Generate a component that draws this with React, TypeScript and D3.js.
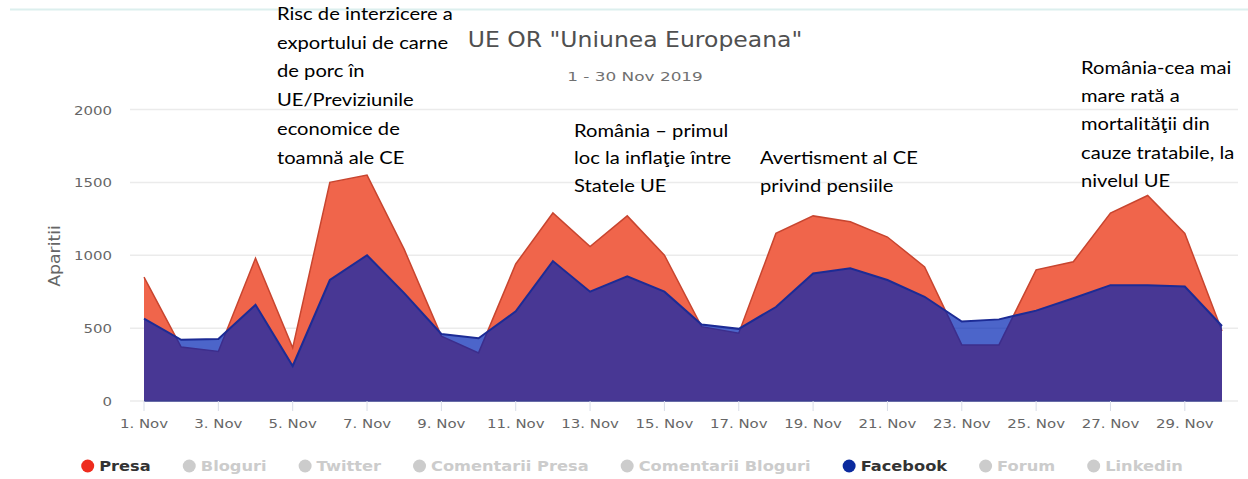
import React from 'react';
import * as d3 from 'd3';

// ---- data ----
const days = [1, 2, 3, 4, 5, 6, 7, 8, 9, 10, 11, 12, 13, 14, 15, 16, 17, 18, 19, 20, 21, 22, 23, 24, 25, 26, 27, 28, 29, 30];
const presa = [850, 370, 340, 980, 365, 1500, 1550, 1040, 445, 330, 940, 1290, 1060, 1270, 1000, 510, 465, 1150, 1270, 1230, 1125, 920, 385, 385, 900, 955, 1290, 1410, 1150, 480];
const facebook = [565, 420, 425, 660, 240, 830, 1000, 740, 460, 430, 615, 960, 750, 855, 750, 525, 495, 645, 875, 910, 830, 715, 545, 560, 620, 705, 795, 795, 785, 515];
const yTicks = [0, 500, 1000, 1500, 2000];
const xTickDays = [1, 3, 5, 7, 9, 11, 13, 15, 17, 19, 21, 23, 25, 27, 29];
const legendNames = ['Presa', 'Bloguri', 'Twitter', 'Comentarii Presa', 'Comentarii Bloguri', 'Facebook', 'Forum', 'Linkedin'];
const legendColors = ['#ee2c1e', '#cccccc', '#cccccc', '#cccccc', '#cccccc', '#0b2a9e', '#cccccc', '#cccccc'];
const legendActive = [true, false, false, false, false, true, false, false];
const titleText = 'UE OR "Uniunea Europeana"';
const subtitleText = '1 - 30 Nov 2019';
const yAxisTitle = 'Aparitii';
const note1 = ['Risc de interzicere a', 'exportului de carne', 'de porc în', 'UE/Previziunile', 'economice de', 'toamnă ale CE'];
const note2 = ['România – primul', 'loc la inflaţie între', 'Statele UE'];
const note3 = ['Avertisment al CE', 'privind pensiile'];
const note4 = ['România-cea mai', 'mare rată a', 'mortalităţii din', 'cauze tratabile, la', 'nivelul UE'];

// ---- layout ----
const W = 1248;
const H = 479;
const AX_FONT = '"DejaVu Sans", Verdana, sans-serif';
const NOTE_FONT = 'Lato, "Open Sans", sans-serif';
const SX = 1.15;
const NOTE_SX = 1.12;

const x = d3.scaleLinear().domain([1, 30]).range([144, 1222]);
const y = d3.scaleLinear().domain([0, 2000]).range([401, 109.5]);

function areaPath(vals: number[]) {
  return d3.area<number>().x((_, i) => x(days[i])).y0(y(0)).y1((d) => y(d))(vals) || '';
}
function linePath(vals: number[]) {
  return d3.line<number>().x((_, i) => x(days[i])).y((d) => y(d))(vals) || '';
}

function SText(props: any) {
  const { x: tx, y: ty, sx = 1, anchor = 'start', children, ...rest } = props;
  return (
    <text transform={`translate(${tx},${ty}) scale(${sx},1)`} textAnchor={anchor} {...rest}>
      {children}
    </text>
  );
}

function measure(t: string, font: string) {
  const c = document.createElement('canvas').getContext('2d');
  if (!c) return t.length * 8;
  c.font = font;
  return c.measureText(t).width;
}

function Note({ lines, x0, y0, step }: { lines: string[]; x0: number; y0: number; step: number }) {
  return (
    <g>
      {lines.map((l, i) => (
        <SText key={i} x={x0} y={y0 + i * step} sx={NOTE_SX} fontFamily={NOTE_FONT} fontSize={18} fill="#000">
          {l}
        </SText>
      ))}
    </g>
  );
}

export default function App() {
  // legend layout
  const LEG_SX = 1.16;
  const legFont = `bold 14px "DejaVu Sans"`;
  let cursor = 0;
  const items = legendNames.map((n, i) => {
    const w = measure(n, legFont) * LEG_SX;
    const it = { name: n, cx: cursor + 6.5, tx: cursor + 18, color: legendColors[i], active: legendActive[i] };
    cursor = cursor + 18 + w + 32;
    return it;
  });
  const total = cursor - 32;
  const legOff = 632 - total / 2;

  return (
    <svg width={W} height={H} style={{ position: 'absolute', left: 0, top: 0, background: '#fff' }}>
      <rect x={0} y={0} width={W} height={H} fill="#fff" />
      <line x1={10} x2={W} y1={9.5} y2={9.5} stroke="#dcefee" strokeWidth={2} />

      {/* grid */}
      {yTicks.map((t) => (
        <line key={t} x1={130} x2={1238} y1={y(t)} y2={y(t)} stroke="#ebebeb" strokeWidth={1.5} />
      ))}

      {/* areas */}
      <path d={areaPath(presa)} fill="#f0654b" />
      <path d={linePath(presa)} fill="none" stroke="#c8452f" strokeWidth={1.5} />
      <path d={areaPath(facebook)} fill="rgb(0,36,180)" fillOpacity={0.7} />
      <path d={linePath(facebook)} fill="none" stroke="#1c2b95" strokeWidth={2} />
      <line x1={x(1)} x2={x(30)} y1={y(0)} y2={y(0)} stroke="#3b3f8f" strokeWidth={1.5} />

      {/* x ticks */}
      {xTickDays.map((d) => (
        <g key={d}>
          <line x1={x(d)} x2={x(d)} y1={y(0)} y2={y(0) + 10} stroke="#d8dde8" strokeWidth={1} />
          <SText x={x(d)} y={428} sx={SX} anchor="middle" fontFamily={AX_FONT} fontSize={13} fill="#666">
            {`${d}. Nov`}
          </SText>
        </g>
      ))}

      {/* y labels */}
      {yTicks.map((t) => (
        <SText key={t} x={112} y={y(t) + 5} sx={SX} anchor="end" fontFamily={AX_FONT} fontSize={13} fill="#666">
          {`${t}`}
        </SText>
      ))}
      <text
        transform={`translate(60,256) rotate(-90) scale(${SX},1)`}
        textAnchor="middle"
        fontFamily={AX_FONT}
        fontSize={15}
        fill="#666"
      >
        {yAxisTitle}
      </text>

      {/* title */}
      <SText x={635} y={47} sx={1.12} anchor="middle" fontFamily={AX_FONT} fontSize={21} fill="#505050">
        {titleText}
      </SText>
      <SText x={635} y={81} sx={1.3} anchor="middle" fontFamily={AX_FONT} fontSize={13} fill="#707070">
        {subtitleText}
      </SText>

      {/* legend */}
      {items.map((it, i) => (
        <g key={i}>
          <circle cx={legOff + it.cx} cy={466} r={6.5} fill={it.color} />
          <SText
            x={legOff + it.tx}
            y={471}
            sx={LEG_SX}
            fontFamily={AX_FONT}
            fontSize={14}
            fontWeight="bold"
            fill={it.active ? '#333' : '#cccccc'}
          >
            {it.name}
          </SText>
        </g>
      ))}

      {/* annotations */}
      <Note lines={note1} x0={277} y0={20} step={28.7} />
      <Note lines={note2} x0={574} y0={136.5} step={27.8} />
      <Note lines={note3} x0={760} y0={164.3} step={27.8} />
      <Note lines={note4} x0={1081} y0={73.5} step={28.4} />
    </svg>
  );
}
